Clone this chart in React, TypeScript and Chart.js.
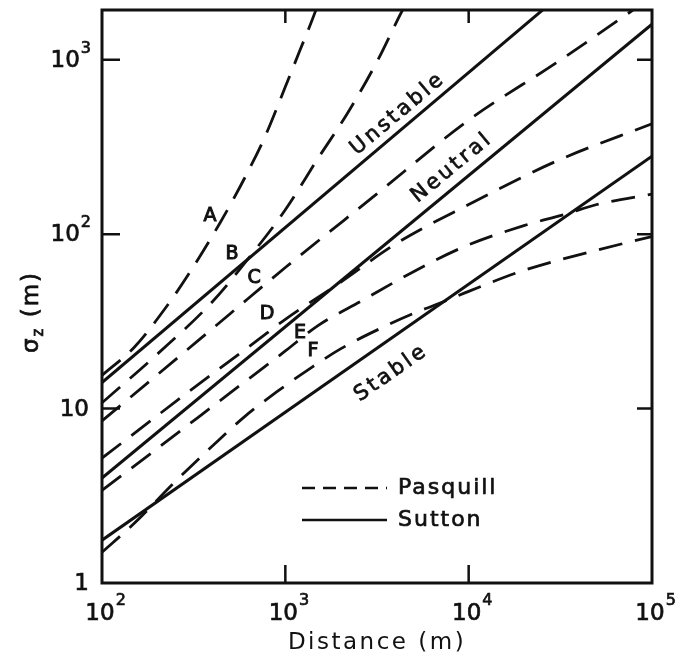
import React, { useEffect, useRef } from "react";
import { Chart, registerables } from "chart.js";

Chart.register(...registerables);

// ---------- data ----------
const xTickValues = [100, 1000, 10000, 100000];
const xTickBase = ["10", "10", "10", "10"];
const xTickExp = ["2", "3", "4", "5"];
const yTickValues = [1, 10, 100, 1000];
const yTickBase = ["1", "10", "10", "10"];
const yTickExp = ["", "", "2", "3"];

// Pasquill (dashed)
const pasquillA_x = [100, 150, 225, 300, 440, 600, 775, 1000, 1200, 1400, 1500];
const pasquillA_y = [15.5, 22.5, 38.5, 60, 116, 210, 363, 700, 1130, 1690, 2050];
const pasquillB_x = [100, 200, 400, 625, 1000, 1500, 2200, 3200, 4100, 4600];
const pasquillB_y = [10.8, 20.5, 41, 72, 138, 270, 500, 1000, 1700, 2150];
const pasquillC_x = [100, 200, 500, 1000, 3000, 10000, 30000, 76000, 100000];
const pasquillC_y = [8.5, 15.6, 35, 64.4, 163, 451, 960, 1880, 2300];
const pasquillD_x = [100, 300, 700, 1000, 2000, 4000, 10000, 30000, 100000];
const pasquillD_y = [5.2, 12.6, 24.5, 32.5, 53, 88, 148, 262, 430];
const pasquillE_x = [100, 200, 500, 1000, 1500, 2600, 5000, 9500, 20000, 33600, 50000, 100000];
const pasquillE_y = [3.4, 5.9, 12.3, 21.4, 29.8, 41.4, 61, 85, 112, 130, 148, 170];
const pasquillF_x = [100, 150, 250, 400, 600, 900, 1400, 2000, 3700, 5300, 7500, 10000, 20000, 50000, 100000];
const pasquillF_y = [1.5, 2.2, 3.8, 6.1, 9.0, 12.5, 17.3, 22, 30.5, 36, 41.5, 47, 62, 81, 97];

// Sutton (solid)
const suttonUnstable_x = [100, 30000];
const suttonUnstable_y = [14.1, 2245];
const suttonNeutral_x = [100, 100000];
const suttonNeutral_y = [4.0, 1600];
const suttonStable_x = [100, 100000];
const suttonStable_y = [1.76, 280];

// curve labels (anchor in data units)
const letterNames = ["A", "B", "C", "D", "E", "F"];
const letterX = [388, 512, 675, 794, 1202, 1416];
const letterY = [127, 77, 56, 34.9, 27.2, 21.4];
const classNames = ["Unstable", "Neutral", "Stable"];
const classX = [4120, 8110, 3780];
const classY = [491, 241, 16];
const classAngle = [-40, -39.5, -35];

const legendNames = ["Pasquill", "Sutton"];

// ---------- style ----------
const INK = "#111111";
const FONT = "'DejaVu Sans', 'Liberation Sans', sans-serif";
const DASH = [24, 13];

function pts(xs: number[], ys: number[]) {
  return xs.map((x, i) => ({ x, y: ys[i] }));
}

function heavyText(ctx: any, t: string, x: number, y: number, w = 0.7) {
  ctx.fillText(t, x, y);
  ctx.lineWidth = w;
  ctx.strokeText(t, x, y);
}

const decor = {
  id: "decor",
  beforeDraw(chart: any) {
    const ctx = chart.ctx;
    ctx.save();
    ctx.fillStyle = "#ffffff";
    ctx.fillRect(0, 0, chart.width, chart.height);
    ctx.restore();
    ctx.letterSpacing = "2.5px";
  },
  afterDraw(chart: any) {
    const { ctx, chartArea: a } = chart;
    const xs = chart.scales.x;
    const ys = chart.scales.y;
    ctx.save();
    ctx.strokeStyle = INK;
    ctx.fillStyle = INK;
    ctx.setLineDash([]);
    // frame
    ctx.lineWidth = 3;
    ctx.strokeRect(a.left, a.top, a.right - a.left, a.bottom - a.top);
    // inward ticks
    ctx.lineWidth = 2.5;
    ctx.beginPath();
    yTickValues.forEach((v) => {
      if (v <= ys.min || v >= ys.max) return;
      const p = ys.getPixelForValue(v);
      ctx.moveTo(a.left, p);
      ctx.lineTo(a.left + 18, p);
      ctx.moveTo(a.right, p);
      ctx.lineTo(a.right - 15, p);
    });
    xTickValues.forEach((v) => {
      if (v <= xs.min || v >= xs.max) return;
      const p = xs.getPixelForValue(v);
      ctx.moveTo(p, a.bottom);
      ctx.lineTo(p, a.bottom - 18);
      ctx.moveTo(p, a.top);
      ctx.lineTo(p, a.top + 13);
    });
    ctx.stroke();

    // tick labels
    ctx.letterSpacing = "0px";
    ctx.textBaseline = "middle";
    const baseFont = `23px ${FONT}`;
    const supFont = `16px ${FONT}`;
    yTickValues.forEach((v, i) => {
      const p = ys.getPixelForValue(v);
      const rightX = 91;
      if (yTickExp[i]) {
        ctx.font = supFont;
        const w = ctx.measureText(yTickExp[i]).width;
        ctx.textAlign = "right";
        heavyText(ctx, yTickExp[i], rightX, p - 11);
        ctx.font = baseFont;
        heavyText(ctx, yTickBase[i], rightX - w - 1, p + 1);
      } else {
        ctx.font = baseFont;
        ctx.textAlign = "right";
        heavyText(ctx, yTickBase[i], rightX - 2, p + 1);
      }
    });
    xTickValues.forEach((v, i) => {
      const p = xs.getPixelForValue(v) - 2;
      ctx.font = baseFont;
      ctx.textAlign = "center";
      const bw = ctx.measureText(xTickBase[i]).width;
      heavyText(ctx, xTickBase[i], p, 614);
      ctx.font = supFont;
      ctx.textAlign = "left";
      heavyText(ctx, xTickExp[i], p + bw / 2 + 1, 601);
    });

    // y-axis title: sigma_z (m)
    ctx.save();
    ctx.translate(30, 312);
    ctx.rotate(-Math.PI / 2);
    ctx.letterSpacing = "2px";
    const f1 = `23px ${FONT}`;
    const f2 = `15px ${FONT}`;
    ctx.font = f1;
    const wS = ctx.measureText("σ").width;
    const wM = ctx.measureText(" (m)").width;
    ctx.font = f2;
    const wZ = ctx.measureText("z").width;
    const total = wS + wZ + wM;
    let cx = -total / 2;
    ctx.textAlign = "left";
    ctx.textBaseline = "alphabetic";
    ctx.font = f1;
    heavyText(ctx, "σ", cx, 8);
    cx += wS;
    ctx.font = f2;
    heavyText(ctx, "z", cx, 13);
    cx += wZ;
    ctx.font = f1;
    heavyText(ctx, " (m)", cx, 8);
    ctx.restore();

    // curve letters
    ctx.letterSpacing = "0px";
    ctx.font = `19px ${FONT}`;
    ctx.textAlign = "center";
    ctx.textBaseline = "middle";
    letterNames.forEach((t, i) => {
      heavyText(ctx, t, xs.getPixelForValue(letterX[i]), ys.getPixelForValue(letterY[i]), 1);
    });

    // class labels along Sutton lines
    ctx.font = `21px ${FONT}`;
    ctx.letterSpacing = "3px";
    classNames.forEach((t, i) => {
      ctx.save();
      ctx.translate(xs.getPixelForValue(classX[i]), ys.getPixelForValue(classY[i]));
      ctx.rotate((classAngle[i] * Math.PI) / 180);
      heavyText(ctx, t, 0, 0);
      ctx.restore();
    });

    // legend
    const lx0 = 302;
    const lx1 = 387;
    const ly = [488, 520];
    ctx.lineWidth = 2.5;
    ctx.setLineDash([13, 8]);
    ctx.beginPath();
    ctx.moveTo(lx0, ly[0]);
    ctx.lineTo(lx1, ly[0]);
    ctx.stroke();
    ctx.setLineDash([]);
    ctx.beginPath();
    ctx.moveTo(lx0, ly[1]);
    ctx.lineTo(lx1, ly[1]);
    ctx.stroke();
    ctx.font = `22px ${FONT}`;
    ctx.letterSpacing = "2px";
    ctx.textAlign = "left";
    ctx.textBaseline = "middle";
    legendNames.forEach((t, i) => heavyText(ctx, t, 398, ly[i]));
    ctx.restore();
    ctx.letterSpacing = "0px";
  },
};

export default function App() {
  const ref = useRef<HTMLCanvasElement | null>(null);
  useEffect(() => {
    if (!ref.current) return;
    const dashed = (label: string, xs: number[], ys: number[]) => ({
      label,
      data: pts(xs, ys),
      borderColor: INK,
      borderWidth: 2.8,
      borderDash: DASH,
      pointRadius: 0,
      cubicInterpolationMode: "monotone",
      fill: false,
    });
    const solid = (label: string, xs: number[], ys: number[]) => ({
      label,
      data: pts(xs, ys),
      borderColor: INK,
      borderWidth: 3,
      pointRadius: 0,
      tension: 0,
      fill: false,
    });
    const chart = new Chart(ref.current, {
      type: "line",
      data: {
        datasets: [
          dashed("A", pasquillA_x, pasquillA_y),
          dashed("B", pasquillB_x, pasquillB_y),
          dashed("C", pasquillC_x, pasquillC_y),
          dashed("D", pasquillD_x, pasquillD_y),
          dashed("E", pasquillE_x, pasquillE_y),
          dashed("F", pasquillF_x, pasquillF_y),
          solid("Unstable", suttonUnstable_x, suttonUnstable_y),
          solid("Neutral", suttonNeutral_x, suttonNeutral_y),
          solid("Stable", suttonStable_x, suttonStable_y),
        ],
      },
      options: {
        animation: false,
        responsive: false,
        devicePixelRatio: 1,
        layout: { padding: { top: 10, right: 27, left: 0, bottom: 0 } },
        plugins: { legend: { display: false }, tooltip: { enabled: false } },
        scales: {
          x: {
            type: "logarithmic",
            min: 100,
            max: 100000,
            grid: { display: false },
            border: { display: false },
            ticks: { display: false },
            title: {
              display: true,
              text: "Distance (m)",
              color: INK,
              font: { family: FONT, size: 23 },
              padding: { top: 0, bottom: 3 },
            },
            afterFit(s: any) {
              s.height = 77;
            },
          },
          y: {
            type: "logarithmic",
            min: 1,
            max: 1930,
            grid: { display: false },
            border: { display: false },
            ticks: { display: false },
            afterFit(s: any) {
              s.width = 102;
            },
          },
        },
      } as any,
      plugins: [decor],
    });
    return () => chart.destroy();
  }, []);
  return (
    <div style={{ position: "absolute", left: 0, top: 0, width: 679, height: 660, background: "#fff" }}>
      <canvas ref={ref} width={679} height={660} style={{ display: "block" }} />
    </div>
  );
}
